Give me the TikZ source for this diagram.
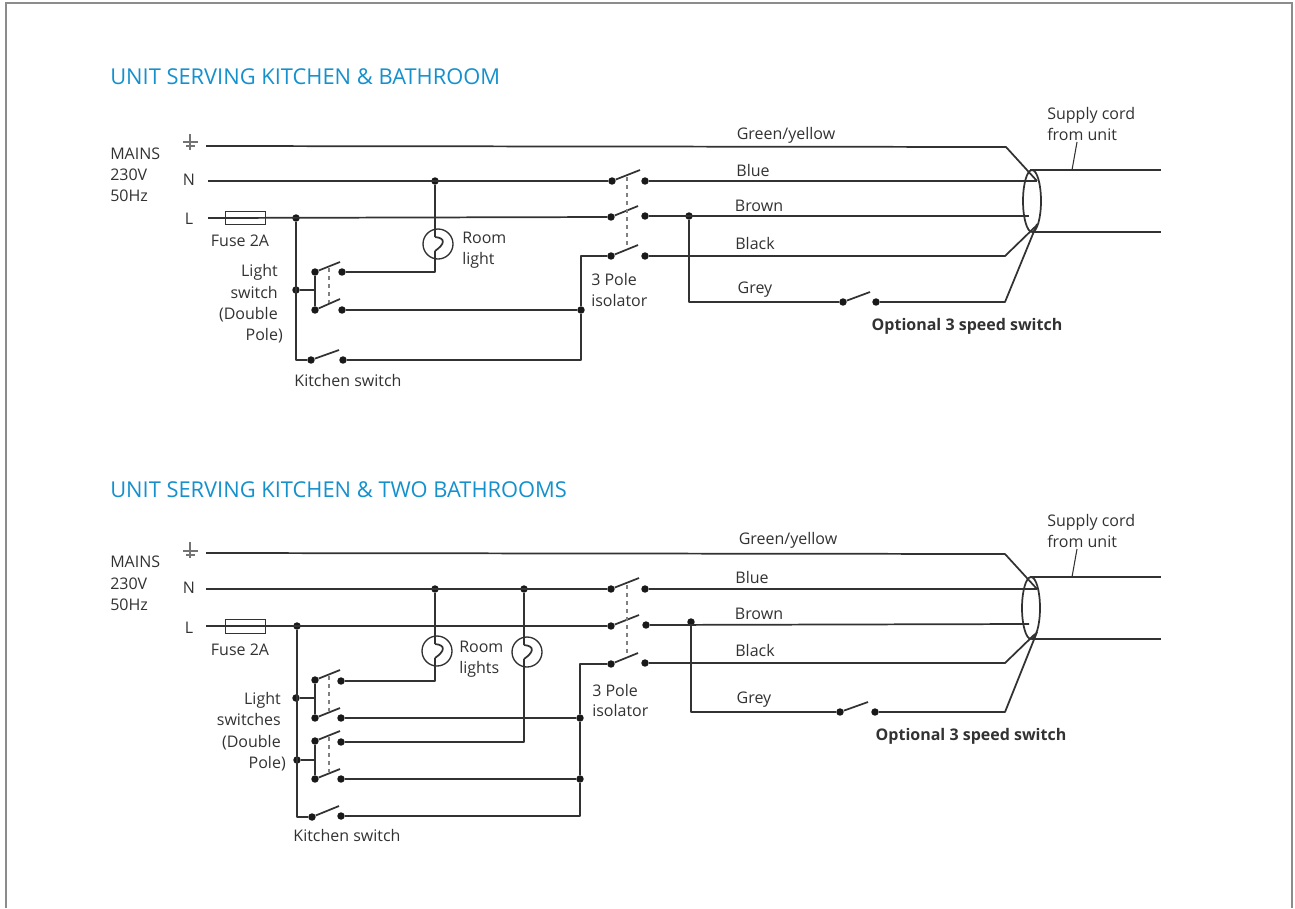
\documentclass[tikz,border=0pt]{standalone}
\usepackage{fontspec}
\setmainfont{Open Sans}
\usetikzlibrary{positioning}
\definecolor{titleblue}{RGB}{20,145,205}
\definecolor{inkgrey}{RGB}{50,50,50}
\tikzset{
  wire/.style={line width=1.3pt, draw=inkgrey, line join=round},
  thinwire/.style={line width=0.8pt, draw=inkgrey},
  earthmark/.style={line width=0.9pt, draw=black!55},
  gang/.style={line width=1.2pt, draw=black!50, dash pattern=on 3pt off 3pt},
  dot/.style={circle, fill=black!90, inner sep=0pt, minimum size=5.6pt},
  lamp/.style={circle, draw=inkgrey, line width=1pt, fill=none, inner sep=0pt, minimum size=22.5pt},
  fuse/.style={rectangle, draw=inkgrey, line width=0.8pt, inner sep=0pt, minimum width=30.5pt, minimum height=10pt},
  lbl/.style={inner sep=0pt, yshift=-1pt, text height=9pt, text depth=2.5pt, font=\fontsize{12}{14}\selectfont, text=inkgrey},
  lblr/.style={lbl, anchor=east},
  lbll/.style={lbl, anchor=west},
  heading/.style={inner sep=0pt, anchor=west, font=\fontsize{16.4}{19}\selectfont, text=titleblue},
  bold/.style={lbl, font=\fontsize{12}{14}\selectfont\bfseries},
}
\begin{document}
\begin{tikzpicture}[x=0.75pt, y=-0.75pt]
  \useasboundingbox (0,0) rectangle (1295,908);
  \draw[black!45, line width=1pt] (6,908) -- (6,3) -- (1292,3) -- (1292,908);

  % top panel
  \node[heading] (headA) at (110,77) {UNIT SERVING KITCHEN \& BATHROOM};
  \node[lbll] (mainsA) at (110,154) {MAINS};
  \node[lbll] (voltA) at (110,175) {230V};
  \node[lbll] (hertzA) at (110,196) {50Hz};
  \node[lbl] (nameNA) at (189,180) {N};
  \node[lbl] (nameLA) at (189,219) {L};
  \node[lbl] (fuseTxtA) at (240,241) {Fuse 2A};
  \node[lblr] (lsA1) at (278,271) {Light};
  \node[lblr] (lsA2) at (278,293) {switch};
  \node[lblr] (lsA3) at (278,314) {(Double};
  \node[lblr] (lsA4) at (283,335) {Pole)};
  \node[lbl] (kitchenA) at (348,381) {Kitchen switch};
  \node[lbll] (roomA1) at (462,238) {Room};
  \node[lbll] (roomA2) at (462,259) {light};
  \node[lbll] (isoA1) at (591,280) {3 Pole};
  \node[lbll] (isoA2) at (591,301) {isolator};
  \node[lbl] (greenA) at (786,134) {Green/yellow};
  \node[lbl] (blueA) at (753,171) {Blue};
  \node[lbl] (brownA) at (759,206) {Brown};
  \node[lbl] (blackA) at (755,244) {Black};
  \node[lbl] (greyA) at (755,288) {Grey};
  \node[bold] (optA) at (967,325) {Optional 3 speed switch};
  \node[lbll] (cordA1) at (1047,114) {Supply cord};
  \node[lbll] (cordA2) at (1047,135) {from unit};

  % earth symbol
  \draw[earthmark] (190,134) -- (190,150);
  \draw[earthmark] (183,142) -- (198,142) (186,146) -- (195,146);

  \coordinate (earthA) at (206,146);
  \coordinate (earthA1) at (1006,147);
  \coordinate (earthA2) at (1037,181);
  \draw[wire] (earthA) -- (earthA1) -- (earthA2);

  \node[dot] (nA1) at (435,181) {};
  \node[dot] (sw1aA) at (612,181) {};
  \node[dot] (sw1bA) at (645,181) {};
  \node[dot] (sw2aA) at (611,217) {};
  \node[dot] (sw2bA) at (645,216) {};
  \node[dot] (sw3aA) at (611,256) {};
  \node[dot] (sw3bA) at (645,256) {};
  \node[dot] (lA1) at (296,218) {};
  \node[dot] (brA1) at (689,216) {};
  \node[dot] (gr1A) at (843,302) {};
  \node[dot] (gr2A) at (876,302) {};
  \node[dot] (tapA) at (296,290) {};
  \node[dot] (ls1aA) at (315,272) {};
  \node[dot] (ls1bA) at (342,272) {};
  \node[dot] (ls2aA) at (315,310) {};
  \node[dot] (ls2bA) at (342,310) {};
  \node[dot] (kaA) at (311,360) {};
  \node[dot] (kbA) at (343,360) {};
  \node[dot] (retA) at (581,310) {};
  \node[lamp] (lampA) at (438,244) {};

  \coordinate (nA0) at (208,181);
  \coordinate (lA0) at (208,218);
  \coordinate (blueEndA) at (1037,181);
  \coordinate (brownEndA) at (1029,216);
  \coordinate (blackA1) at (1005,256);
  \coordinate (blackA2) at (1036,226);
  \coordinate (greyA1) at (1005,302);
  \coordinate (greyA2) at (1037,224);
  \coordinate (cordTopA0) at (1030,170);
  \coordinate (cordTopA1) at (1161,170);
  \coordinate (cordBotA0) at (1032,232);
  \coordinate (cordBotA1) at (1161,232);
  \coordinate (leadA0) at (1072,170);
  \coordinate (leadA1) at (1077,142);
  \coordinate (bulbTopA) at (435,237);
  \coordinate (bulbBotA) at (435,251);
  \node[fuse] (fuseA) at (245.5,218) {};

  \draw[wire] (nA0) -- (sw1aA);
  \draw[wire] (sw1bA) -- (blueEndA);
  \draw[wire] (lA0) -- (sw2aA);
  \draw[wire] (sw2bA) -- (brownEndA);
  \draw[wire] (sw3bA) -- (blackA1) -- (blackA2);
  \draw[wire] (brA1) |- (gr1A);
  \draw[wire] (gr2A) -- (greyA1) -- (greyA2);
  \draw[wire] (lA1) |- (kaA);
  \draw[wire] (kbA) -| (retA) |- (sw3aA);
  \draw[wire] (tapA) -- (tapA -| ls1aA);
  \draw[wire] (ls1aA) -- (ls2aA);
  \draw[wire] (ls2bA) -- (retA);
  \draw[wire] (ls1bA) -| (bulbBotA);
  \draw[wire] (nA1) -- (bulbTopA);
  \draw[wire] (bulbTopA) .. controls +(11,1) and +(10,-7) .. (bulbBotA);
  \draw[wire] (cordTopA0) -- (cordTopA1);
  \draw[wire] (cordBotA0) -- (cordBotA1);
  \draw[thinwire] (leadA0) -- (leadA1);
  \draw[wire] (1032,201) ellipse (9 and 31);

  % levers
  \draw[wire] (sw1aA) -- (640,170);
  \draw[wire] (sw2aA) -- (638,206);
  \draw[wire] (sw3aA) -- (638,245);
  \draw[wire] (gr1A) -- (870,292);
  \draw[wire] (ls1aA) -- (340,262);
  \draw[wire] (ls2aA) -- (340,299);
  \draw[wire] (kaA) -- (339,350);
  \draw[gang] (627,177) -- (627,245);
  \draw[gang] (329,268) -- (329,303);

  % bottom panel
  \node[heading] (headB) at (110,490) {UNIT SERVING KITCHEN \& TWO BATHROOMS};
  \node[lbll] (mainsB) at (110,562) {MAINS};
  \node[lbll] (voltB) at (110,584) {230V};
  \node[lbll] (hertzB) at (110,605) {50Hz};
  \node[lbl] (nameNB) at (189,588) {N};
  \node[lbl] (nameLB) at (189,628) {L};
  \node[lbl] (fuseTxtB) at (240,650) {Fuse 2A};
  \node[lblr] (lsB1) at (281,699) {Light};
  \node[lblr] (lsB2) at (281,720) {switches};
  \node[lblr] (lsB3) at (281,742) {(Double};
  \node[lblr] (lsB4) at (286,763) {Pole)};
  \node[lbl] (kitchenB) at (347,836) {Kitchen switch};
  \node[lbll] (roomB1) at (459,647) {Room};
  \node[lbll] (roomB2) at (459,668) {lights};
  \node[lbll] (isoB1) at (592,691) {3 Pole};
  \node[lbll] (isoB2) at (592,711) {isolator};
  \node[lbl] (greenB) at (788,539) {Green/yellow};
  \node[lbl] (blueB) at (752,578) {Blue};
  \node[lbl] (brownB) at (759,614) {Brown};
  \node[lbl] (blackB) at (755,651) {Black};
  \node[lbl] (greyB) at (754,698) {Grey};
  \node[bold] (optB) at (971,735) {Optional 3 speed switch};
  \node[lbll] (cordB1) at (1047,521) {Supply cord};
  \node[lbll] (cordB2) at (1047,542) {from unit};

  \draw[earthmark] (190,542) -- (190,558);
  \draw[earthmark] (183,551) -- (198,551) (186,555) -- (195,555);

  \coordinate (earthB) at (206,553);
  \coordinate (earthB1) at (1005,554);
  \coordinate (earthB2) at (1037,589);
  \draw[wire] (earthB) -- (earthB1) -- (earthB2);

  \node[dot] (nB1) at (435,589) {};
  \node[dot] (nB2) at (524,589) {};
  \node[dot] (sw1aB) at (611,589) {};
  \node[dot] (sw1bB) at (645,589) {};
  \node[dot] (sw2aB) at (611,626) {};
  \node[dot] (sw2bB) at (646,625) {};
  \node[dot] (sw3aB) at (611,664) {};
  \node[dot] (sw3bB) at (645,663) {};
  \node[dot] (lB1) at (297,626) {};
  \node[dot] (brB1) at (691,622) {};
  \node[dot] (gr1B) at (840,712) {};
  \node[dot] (gr2B) at (875,712) {};
  \node[dot] (tapB1) at (296,698) {};
  \node[dot] (tapB2) at (297,760) {};
  \node[dot] (ls1aB) at (315,680) {};
  \node[dot] (ls1bB) at (341,681) {};
  \node[dot] (ls2aB) at (315,718) {};
  \node[dot] (ls2bB) at (341,718) {};
  \node[dot] (ls3aB) at (315,741) {};
  \node[dot] (ls3bB) at (341,742) {};
  \node[dot] (ls4aB) at (315,779) {};
  \node[dot] (ls4bB) at (341,779) {};
  \node[dot] (kaB) at (312,817) {};
  \node[dot] (kbB) at (341,816) {};
  \node[dot] (retB1) at (580,718) {};
  \node[dot] (retB2) at (580,779) {};
  \node[lamp] (lampB1) at (437,651) {};
  \node[lamp] (lampB2) at (527,652) {};

  \coordinate (nB0) at (206,589);
  \coordinate (lB0) at (206,626);
  \coordinate (blueEndB) at (1037,589);
  \coordinate (brownEndB) at (1029,624);
  \coordinate (blackB1) at (1005,663);
  \coordinate (blackB2) at (1035,634);
  \coordinate (greyB1) at (1005,712);
  \coordinate (greyB2) at (1037,632);
  \coordinate (cordTopB0) at (1030,577);
  \coordinate (cordTopB1) at (1161,577);
  \coordinate (cordBotB0) at (1032,639);
  \coordinate (cordBotB1) at (1161,639);
  \coordinate (leadB0) at (1072,577);
  \coordinate (leadB1) at (1077,549);
  \coordinate (bulbTopB1) at (435,644);
  \coordinate (bulbBotB1) at (435,658);
  \coordinate (bulbTopB2) at (524,645);
  \coordinate (bulbBotB2) at (524,659);
  \node[fuse] (fuseB) at (245.5,626.5) {};

  \draw[wire] (nB0) -- (sw1aB);
  \draw[wire] (sw1bB) -- (blueEndB);
  \draw[wire] (lB0) -- (sw2aB);
  \draw[wire] (sw2bB) -- (brownEndB);
  \draw[wire] (sw3bB) -- (blackB1) -- (blackB2);
  \draw[wire] (brB1) |- (gr1B);
  \draw[wire] (gr2B) -- (greyB1) -- (greyB2);
  \draw[wire] (lB1) |- (kaB);
  \draw[wire] (kbB) -| (retB2) -- (retB1) |- (sw3aB);
  \draw[wire] (tapB1) -- (tapB1 -| ls1aB);
  \draw[wire] (tapB2) -- (tapB2 -| ls3aB);
  \draw[wire] (ls1aB) -- (ls2aB);
  \draw[wire] (ls3aB) -- (ls4aB);
  \draw[wire] (ls2bB) -- (retB1);
  \draw[wire] (ls4bB) -- (retB2);
  \draw[wire] (ls1bB) -| (bulbBotB1);
  \draw[wire] (nB1) -- (bulbTopB1);
  \draw[wire] (ls3bB) -| (bulbBotB2);
  \draw[wire] (nB2) -- (bulbTopB2);
  \draw[wire] (bulbTopB1) .. controls +(11,1) and +(10,-7) .. (bulbBotB1);
  \draw[wire] (bulbTopB2) .. controls +(11,1) and +(10,-7) .. (bulbBotB2);
  \draw[wire] (cordTopB0) -- (cordTopB1);
  \draw[wire] (cordBotB0) -- (cordBotB1);
  \draw[thinwire] (leadB0) -- (leadB1);
  \draw[wire] (1031,608) ellipse (9 and 31);

  % levers
  \draw[wire] (sw1aB) -- (639,578);
  \draw[wire] (sw2aB) -- (639,615);
  \draw[wire] (sw3aB) -- (638,653);
  \draw[wire] (gr1B) -- (868,702);
  \draw[wire] (ls1aB) -- (340,670);
  \draw[wire] (ls2aB) -- (340,708);
  \draw[wire] (ls3aB) -- (340,731);
  \draw[wire] (ls4aB) -- (340,769);
  \draw[wire] (kaB) -- (339,806);
  \draw[gang] (627,585) -- (627,653);
  \draw[gang] (329,676) -- (329,711);
  \draw[gang] (329,737) -- (329,772);
\end{tikzpicture}
\end{document}
